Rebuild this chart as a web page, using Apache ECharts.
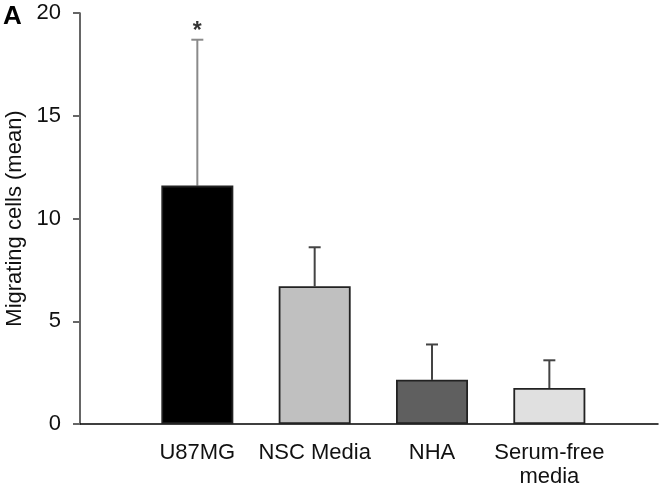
<!DOCTYPE html>
<html><head><meta charset="utf-8">
<script src="https://cdn.jsdelivr.net/npm/echarts@6/dist/echarts.min.js"></script>
<style>html,body{margin:0;padding:0;background:#fff}#c{width:664px;height:497px}</style>
</head><body><div id="c"></div>
<script>
const categories = ['U87MG', 'NSC Media', 'NHA', 'Serum-free\nmedia'];
const means = [11.6, 6.7, 2.15, 1.75];
const errTops = [18.7, 8.6, 3.87, 3.1];
const barColors = ['#000000', '#c0c0c0', '#5f5f5f', '#e0e0e0'];
const errColors = ['#8a8a8a', '#444444', '#444444', '#444444'];
const yTicks = [0, 5, 10, 15, 20];

const FONT = 'Liberation Sans, Arial, sans-serif';
const chart = echarts.init(document.getElementById('c'));
const positions = categories.map((c, i) => i + 1);
chart.setOption({
  animation: false,
  backgroundColor: '#fff',
  grid: { left: 80, right: 6, top: 13, bottom: 73, containLabel: false, outerBoundsMode: 'none' },
  xAxis: {
    type: 'value', min: 0, max: 4.926, interval: 1,
    axisLine: { lineStyle: { color: '#000', width: 1.5 } },
    axisTick: { show: false },
    splitLine: { show: false },
    axisLabel: {
      margin: 17, color: '#111', fontFamily: FONT, fontSize: 22, lineHeight: 24,
      showMaxLabel: false,
      formatter: v => { const i = Math.round(v) - 1; return (i >= 0 && i < categories.length && Math.abs(v - Math.round(v)) < 1e-6) ? categories[i] : ''; }
    }
  },
  yAxis: {
    type: 'value', min: 0, max: 20, interval: 5,
    name: 'Migrating cells (mean)', nameLocation: 'middle', nameGap: 54,
    nameTextStyle: { color: '#111', fontFamily: FONT, fontSize: 22 },
    axisLine: { show: true, lineStyle: { color: '#333', width: 1.5 } },
    axisTick: { show: true, inside: false, length: 7, lineStyle: { color: '#666', width: 2 } },
    splitLine: { show: false },
    axisLabel: { margin: 19, color: '#111', fontFamily: FONT, fontSize: 22,
      formatter: v => yTicks.includes(v) ? String(v) : '' }
  },
  graphic: [
    { type: 'text', left: 3, top: 4, style: { text: 'A', font: 'bold 26px Liberation Sans, Arial, sans-serif', fill: '#000' } }
  ],
  series: [
    {
      type: 'bar', barWidth: 72,
      data: means.map((m, i) => ({ value: [positions[i], m], itemStyle: { color: barColors[i], borderColor: '#222', borderWidth: 1.8 } })),
      z: 2
    },
    {
      type: 'custom', z: 1,
      data: means.map((m, i) => [positions[i], m, errTops[i], i]),
      renderItem: (params, api) => {
        const x = api.value(0), lo = api.value(1), hi = api.value(2), i = api.value(3);
        const p0 = api.coord([x, lo]), p1 = api.coord([x, hi]);
        const col = errColors[i];
        return { type: 'group', children: [
          { type: 'line', shape: { x1: p0[0], y1: p0[1], x2: p1[0], y2: p1[1] }, style: { stroke: col, lineWidth: 2 } },
          { type: 'line', shape: { x1: p1[0] - 6, y1: p1[1], x2: p1[0] + 6, y2: p1[1] }, style: { stroke: col, lineWidth: 2 } }
        ]};
      }
    },
    {
      type: 'scatter', symbolSize: 0,
      data: [[positions[0], errTops[0]]],
      label: { show: true, position: 'top', distance: -3, formatter: '*', color: '#000', fontSize: 23, fontWeight: 'bold', fontFamily: FONT }
    }
  ]
});
</script></body></html>
